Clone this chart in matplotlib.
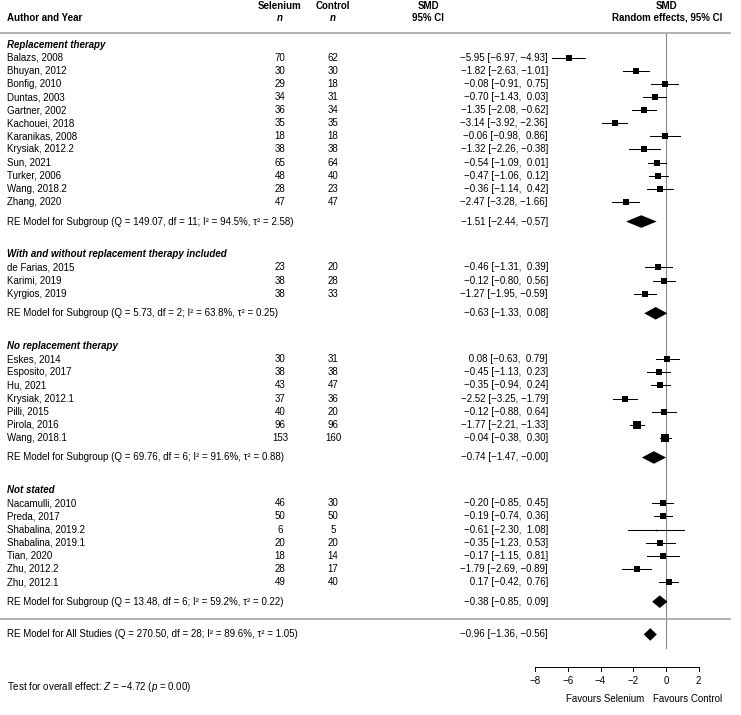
import numpy as np
import matplotlib
matplotlib.use("Agg")
import matplotlib.pyplot as plt
from matplotlib.transforms import blended_transform_factory

plt.rcParams["font.family"] = ["Liberation Sans", "DejaVu Sans"]
plt.rcParams["mathtext.fontset"] = "custom"
plt.rcParams["mathtext.rm"] = "Liberation Sans"
plt.rcParams["mathtext.it"] = "Liberation Sans:italic"

# subgroup data
group_names = [
    "Replacement therapy",
    "With and without replacement therapy included",
    "No replacement therapy",
    "Not stated",
]
group_studies = [
    ["Balazs, 2008", "Bhuyan, 2012", "Bonfig, 2010", "Duntas, 2003", "Gartner, 2002",
     "Kachouei, 2018", "Karanikas, 2008", "Krysiak, 2012.2", "Sun, 2021", "Turker, 2006",
     "Wang, 2018.2", "Zhang, 2020"],
    ["de Farias, 2015", "Karimi, 2019", "Kyrgios, 2019"],
    ["Eskes, 2014", "Esposito, 2017", "Hu, 2021", "Krysiak, 2012.1", "Pilli, 2015",
     "Pirola, 2016", "Wang, 2018.1"],
    ["Nacamulli, 2010", "Preda, 2017", "Shabalina, 2019.2", "Shabalina, 2019.1",
     "Tian, 2020", "Zhu, 2012.2", "Zhu, 2012.1"],
]
group_n_sel = [
    [70, 30, 29, 34, 36, 35, 18, 38, 65, 48, 28, 47],
    [23, 38, 38],
    [30, 38, 43, 37, 40, 96, 153],
    [46, 50, 6, 20, 18, 28, 49],
]
group_n_ctl = [
    [62, 30, 18, 31, 34, 35, 18, 38, 64, 40, 23, 47],
    [20, 28, 33],
    [31, 38, 47, 36, 20, 96, 160],
    [30, 50, 5, 20, 14, 17, 40],
]
group_smd = [
    [-5.95, -1.82, -0.08, -0.70, -1.35, -3.14, -0.06, -1.32, -0.54, -0.47, -0.36, -2.47],
    [-0.46, -0.12, -1.27],
    [0.08, -0.45, -0.35, -2.52, -0.12, -1.77, -0.04],
    [-0.20, -0.19, -0.61, -0.35, -0.17, -1.79, 0.17],
]
group_lo = [
    [-6.97, -2.63, -0.91, -1.43, -2.08, -3.92, -0.98, -2.26, -1.09, -1.06, -1.14, -3.28],
    [-1.31, -0.80, -1.95],
    [-0.63, -1.13, -0.94, -3.25, -0.88, -2.21, -0.38],
    [-0.85, -0.74, -2.30, -1.23, -1.15, -2.69, -0.42],
]
group_hi = [
    [-4.93, -1.01, 0.75, 0.03, -0.62, -2.36, 0.86, -0.38, 0.01, 0.12, 0.42, -1.66],
    [0.39, 0.56, -0.59],
    [0.79, 0.23, 0.24, -1.79, 0.64, -1.33, 0.30],
    [0.45, 0.36, 1.08, 0.53, 0.81, -0.89, 0.76],
]
# subgroup RE models
re_q = [149.07, 5.73, 69.76, 13.48]
re_df = [11, 2, 6, 6]
re_i2 = [94.5, 63.8, 91.6, 59.2]
re_tau2 = [2.58, 0.25, 0.88, 0.22]
re_est = [-1.51, -0.63, -0.74, -0.38]
re_lo = [-2.44, -1.33, -1.47, -0.85]
re_hi = [-0.57, 0.08, -0.00, 0.09]

# overall model
all_q, all_df, all_i2, all_tau2 = 270.50, 28, 89.6, 1.05
all_est, all_lo, all_hi = -0.96, -1.36, -0.56
test_z, test_p = -4.72, 0.00

x_ticks = [-8, -6, -4, -2, 0, 2]

FS = 7.0
W, H = 741, 715
UNIT_PX = 16.375
ZERO_PX = 666
ROW_PX = 13.108
TOP_PX = 57.7


def fx(p):
    return p / W


def fmt(v):
    return f"{v:5.2f}".replace("-", "\u2212")


def ci_text(e, lo, hi):
    return f"{fmt(e)} [{fmt(lo)}, {fmt(hi)}]"


fig = plt.figure(figsize=(W / 100, H / 100), dpi=100)
ax = fig.add_axes([0, 0, 1, 1])
ax.set_xlim(-ZERO_PX / UNIT_PX, (W - ZERO_PX) / UNIT_PX)
ax.set_ylim((H - TOP_PX) / ROW_PX, -TOP_PX / ROW_PX)
ax.axis("off")
tr = blended_transform_factory(ax.transAxes, ax.transData)

# marker sizes from random-effects weights
all_se = [(h - l) / 3.92 for gl, gh in zip(group_lo, group_hi) for l, h in zip(gl, gh)]
all_w = 1.0 / (np.array(all_se) ** 2 + all_tau2)
w_min, w_max = all_w.min(), all_w.max()

# header
for txt, xp, ha, row in [
    ("Author and Year", 7, "left", -3.03),
    ("Selenium", 280, "center", -3.94),
    ("Control", 333, "center", -3.94),
    ("SMD", 428, "center", -3.94),
    ("95% CI", 428, "center", -3.03),
    ("SMD", 667, "center", -3.94),
    ("Random effects, 95% CI", 667, "center", -3.03),
]:
    ax.text(fx(xp), row, txt, transform=tr, ha=ha, va="center", fontsize=FS, fontweight="bold")
for xp in [280, 333]:
    ax.text(fx(xp), -3.03, "n", transform=tr, ha="center", va="center", fontsize=FS,
            fontweight="bold", fontstyle="italic")

sep_color = "#ababab"
ax.plot([0, 730 / W], [-1.9, -1.9], transform=tr, color=sep_color, lw=1.3, clip_on=False)

row = 0
k = 0
for g in range(len(group_names)):
    ax.text(fx(7), row - 1, group_names[g], transform=tr, ha="left", va="center",
            fontsize=FS, fontweight="bold", fontstyle="italic")
    for i, name in enumerate(group_studies[g]):
        y = row + i
        e, lo, hi = group_smd[g][i], group_lo[g][i], group_hi[g][i]
        ax.text(fx(7), y, name, transform=tr, ha="left", va="center", fontsize=FS)
        ax.text(fx(280), y, str(group_n_sel[g][i]), transform=tr, ha="center", va="center", fontsize=FS)
        ax.text(fx(333), y, str(group_n_ctl[g][i]), transform=tr, ha="center", va="center", fontsize=FS)
        ax.text(fx(548), y, ci_text(e, lo, hi), transform=tr, ha="right", va="center", fontsize=FS)
        ax.plot([lo, hi], [y, y], color="black", lw=0.75)
        norm = (all_w[k] - w_min) / (w_max - w_min)
        side_px = 1.6 + norm ** 0.6 * 5.6
        ax.plot(e, y, marker="s", color="black", markersize=side_px * 0.72, mew=0)
        k += 1
    y = row + len(group_studies[g]) - 1 + 1.5
    ax.text(fx(7), y,
            f"RE Model for Subgroup (Q = {re_q[g]:.2f}, df = {re_df[g]}; "
            f"I\u00b2 = {re_i2[g]:.1f}%, \u03c4\u00b2 = {re_tau2[g]:.2f})",
            transform=tr, ha="left", va="center", fontsize=FS)
    ax.text(fx(548), y, ci_text(re_est[g], re_lo[g], re_hi[g]), transform=tr, ha="right",
            va="center", fontsize=FS)
    ax.fill([re_lo[g], re_est[g], re_hi[g], re_est[g]], [y, y - 0.48, y, y + 0.48],
            color="black", lw=0)
    row = y + 2.5 + 1

y_sep = row - 3.5 + 1.35
ax.plot([0, 730 / W], [y_sep, y_sep], transform=tr, color=sep_color, lw=1.3, clip_on=False)
y_all = row - 3.5 + 2.5
ax.text(fx(7), y_all,
        f"RE Model for All Studies (Q = {all_q:.2f}, df = {all_df}; "
        f"I\u00b2 = {all_i2:.1f}%, \u03c4\u00b2 = {all_tau2:.2f})",
        transform=tr, ha="left", va="center", fontsize=FS)
ax.text(fx(548), y_all, ci_text(all_est, all_lo, all_hi), transform=tr, ha="right",
        va="center", fontsize=FS)
ax.fill([all_lo, all_est, all_hi, all_est], [y_all, y_all - 0.48, y_all, y_all + 0.48],
        color="black", lw=0)

# reference line
ax.plot([0, 0], [-1.9, y_all + 1.0], color="#888888", lw=0.8, zorder=0)

# x axis, ticks pointing down
y_axis = y_all + 2.45
ax.plot([x_ticks[0], x_ticks[-1]], [y_axis, y_axis], color="black", lw=0.7)
for t in x_ticks:
    ax.plot([t, t], [y_axis, y_axis + 0.32], color="black", lw=0.7)
    ax.text(t, y_axis + 1.1, f"{t}".replace("-", "\u2212"), ha="center", va="center", fontsize=FS)
ax.text(fx(644), y_axis + 2.45, "Favours Selenium", transform=tr, ha="right", va="center", fontsize=FS)
ax.text(fx(653), y_axis + 2.45, "Favours Control", transform=tr, ha="left", va="center", fontsize=FS)

ax.text(fx(7), y_all + 4.0,
        f"Test for overall effect: $Z$ = {test_z:.2f}".replace("-", "\u2212") + f" ($p$ = {test_p:.2f})",
        transform=tr, ha="left", va="center", fontsize=FS)

fig.savefig("out.png", dpi=100)
